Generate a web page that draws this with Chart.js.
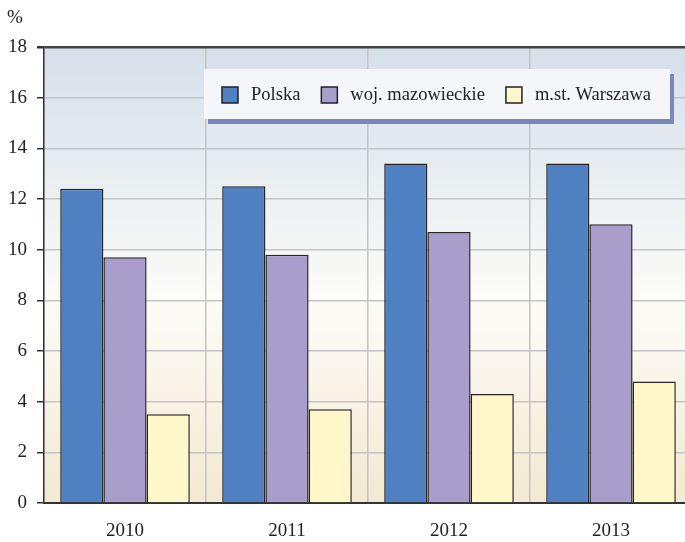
<!DOCTYPE html>
<html>
<head>
<meta charset="utf-8">
<script src="https://cdn.jsdelivr.net/npm/chart.js@4"></script>
<style>
  html, body { margin: 0; padding: 0; background: #fff; overflow: hidden; }
  #wrap { width: 685px; height: 542px; overflow: hidden; }
</style>
</head>
<body>
<div id="wrap"><canvas id="unemploymentChart" width="700" height="542"></canvas></div>
<script>
const years = ['2010', '2011', '2012', '2013'];
const polska = [12.4, 12.5, 13.4, 13.4];
const mazowieckie = [9.7, 9.8, 10.7, 11.0];
const warszawa = [3.5, 3.7, 4.3, 4.8];
const seriesNames = ['Polska', 'woj. mazowieckie', 'm.st. Warszawa'];
const seriesColors = ['#4f80c1', '#a99ecb', '#fff6c9'];
const unitLabel = '%';

const serif = '"Liberation Serif", "DejaVu Serif", serif';

// plot background gradient + the "%" unit label
const backgroundPlugin = {
    id: 'plotBackground',
    beforeDraw(chart) {
        const { ctx, chartArea: a } = chart;
        const g = ctx.createLinearGradient(0, a.top, 0, a.bottom);
        g.addColorStop(0, '#d5dfea');
        g.addColorStop(0.55, '#fcfcf8');
        g.addColorStop(1, '#f3e9d2');
        ctx.save();
        ctx.fillStyle = g;
        ctx.fillRect(a.left, a.top, a.right - a.left, a.bottom - a.top);
        ctx.fillStyle = '#222';
        ctx.font = '19px ' + serif;
        ctx.textBaseline = 'middle';
        ctx.fillText(unitLabel, 7, 18);
        ctx.restore();
    }
};

// legend box drawn inside the plot, with a shadow
const boxLegendPlugin = {
    id: 'boxLegend',
    afterDatasetsDraw(chart) {
        const ctx = chart.ctx;
        const bx = 204, by = 69, bw = 466, bh = 50;
        ctx.save();
        ctx.fillStyle = '#7b86bb';
        ctx.fillRect(bx + 4, by + 5, bw, bh);
        ctx.fillStyle = '#f5f6fa';
        ctx.fillRect(bx, by, bw, bh);
        ctx.font = '18.5px ' + serif;
        ctx.textBaseline = 'middle';
        let x = 222;
        const cy = 95;
        chart.data.datasets.forEach((ds) => {
            ctx.fillStyle = ds.backgroundColor;
            ctx.fillRect(x, cy - 8, 16, 16);
            ctx.strokeStyle = '#222';
            ctx.lineWidth = 1.5;
            ctx.strokeRect(x, cy - 8, 16, 16);
            ctx.fillStyle = '#222';
            ctx.fillText(ds.label, x + 29, cy);
            x += 29 + ctx.measureText(ds.label).width + 21;
        });
        ctx.restore();
    }
};

function renderChart() {
    const ctx = document.getElementById('unemploymentChart').getContext('2d');
    const values = [polska, mazowieckie, warszawa];
    new Chart(ctx, {
        type: 'bar',
        data: {
            labels: years,
            datasets: seriesNames.map((name, i) => ({
                label: name,
                data: values[i],
                backgroundColor: seriesColors[i],
                borderColor: '#262626',
                borderWidth: 1.5,
                categoryPercentage: 0.8,
                barPercentage: 1.0
            }))
        },
        options: {
            responsive: false,
            animation: false,
            layout: { padding: { top: 47, left: 0, right: 8, bottom: 0 } },
            plugins: {
                legend: { display: false },
                tooltip: { enabled: false }
            },
            scales: {
                x: {
                    afterFit(scale) { scale.height = 39; },
                    grid: {
                        color: '#c4c4c4',
                        lineWidth: 1.5,
                        drawTicks: false
                    },
                    border: { color: '#333', width: 2 },
                    ticks: {
                        color: '#222',
                        padding: 17,
                        font: { family: serif, size: 19 }
                    }
                },
                y: {
                    min: 0,
                    max: 18,
                    afterFit(scale) { scale.width = 44; },
                    ticks: {
                        stepSize: 2,
                        color: '#222',
                        padding: 10,
                        font: { family: serif, size: 19 }
                    },
                    grid: {
                        color: (c) => c.tick && c.tick.value === 18 ? '#444' : (c.tick && c.tick.value === 0 ? 'rgba(0,0,0,0)' : '#c4c4c4'),
                        lineWidth: (c) => c.tick && c.tick.value === 18 ? 2.5 : 1.5,
                        tickColor: '#333',
                        tickLength: 7
                    },
                    border: { color: '#333', width: 1.5 }
                }
            }
        },
        plugins: [backgroundPlugin, boxLegendPlugin]
    });
}

document.addEventListener('DOMContentLoaded', () => {
    renderChart();
});
</script>
</body>
</html>
